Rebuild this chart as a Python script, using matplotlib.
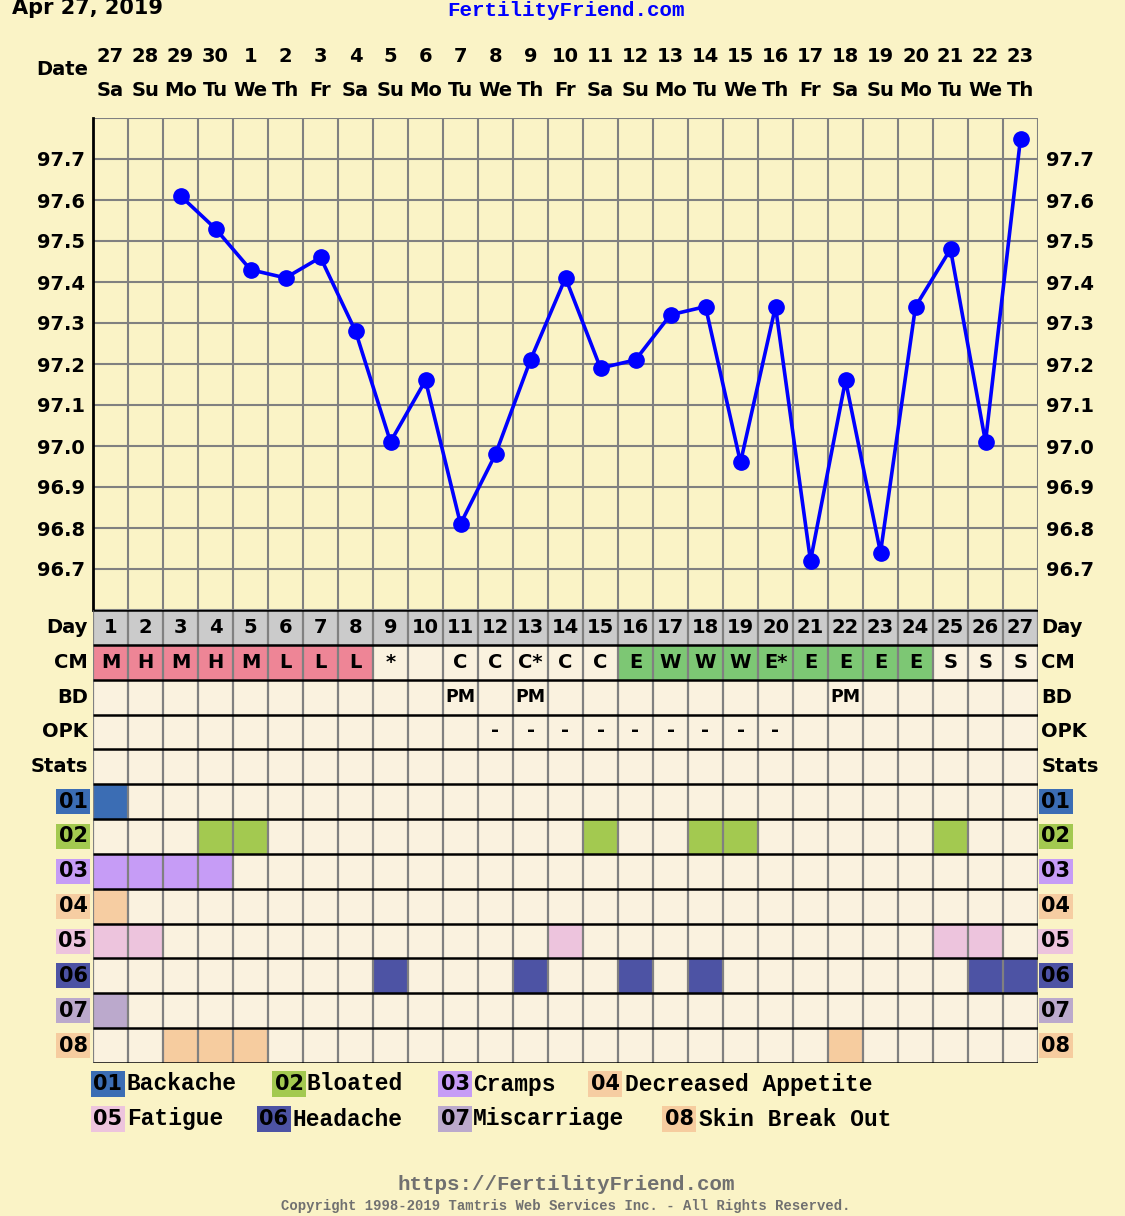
import numpy as np
import matplotlib.pyplot as plt

# ---- cycle data ----
days = list(range(1, 28))
dates = ['27', '28', '29', '30', '1', '2', '3', '4', '5', '6', '7', '8', '9', '10',
         '11', '12', '13', '14', '15', '16', '17', '18', '19', '20', '21', '22', '23']
weekdays = ['Sa', 'Su', 'Mo', 'Tu', 'We', 'Th', 'Fr', 'Sa', 'Su', 'Mo', 'Tu', 'We', 'Th', 'Fr',
            'Sa', 'Su', 'Mo', 'Tu', 'We', 'Th', 'Fr', 'Sa', 'Su', 'Mo', 'Tu', 'We', 'Th']

temp_days = list(range(3, 28))
temps = [97.61, 97.53, 97.43, 97.41, 97.46, 97.28, 97.01, 97.16, 96.81, 96.98,
         97.21, 97.41, 97.19, 97.21, 97.32, 97.34, 96.96, 97.34, 96.72, 97.16,
         96.74, 97.34, 97.48, 97.01, 97.75]
temp_ticks = [96.7, 96.8, 96.9, 97.0, 97.1, 97.2, 97.3, 97.4, 97.5, 97.6, 97.7]

cm = ['M', 'H', 'M', 'H', 'M', 'L', 'L', 'L', '*', '', 'C', 'C', 'C*', 'C', 'C',
      'E', 'W', 'W', 'W', 'E*', 'E', 'E', 'E', 'E', 'S', 'S', 'S']
bd = ['', '', '', '', '', '', '', '', '', '', 'PM', '', 'PM', '', '',
      '', '', '', '', '', '', 'PM', '', '', '', '', '']
opk = ['', '', '', '', '', '', '', '', '', '', '', '-', '-', '-', '-',
       '-', '-', '-', '-', '-', '', '', '', '', '', '', '']

row_labels = ['Day', 'CM', 'BD', 'OPK', 'Stats']

symptom_codes = ['01', '02', '03', '04', '05', '06', '07', '08']
symptom_names = ['Backache', 'Bloated', 'Cramps', 'Decreased Appetite',
                 'Fatigue', 'Headache', 'Miscarriage', 'Skin Break Out']
symptom_colors = ['#3b6db4', '#a3c950', '#c69cf6', '#f6cda2',
                  '#edc4dd', '#4d53a4', '#bba9cc', '#f6cc9f']
symptom_days = [[1], [4, 5, 15, 18, 19, 25], [1, 2, 3, 4], [1],
                [1, 2, 14, 25, 26], [9, 13, 16, 18, 26, 27], [1], [3, 4, 5, 22]]

# ---- styles ----
page_bg = '#faf3c6'
cell_bg = '#faf2df'
grid_c = '#808080'
pink = '#ee8596'
green = '#7dc774'
cm_colors = {'M': pink, 'H': pink, 'L': pink, 'E': green, 'W': green, 'E*': green}
sans = 'DejaVu Sans'
mono = 'Liberation Mono'

W, H = 1125, 1216
fig = plt.figure(figsize=(W / 100, H / 100), dpi=100)
fig.patch.set_facecolor(page_bg)

# ---- temperature chart ----
ax = fig.add_axes([93 / W, (H - 610) / H, 945 / W, 492 / H])
ax.set_facecolor(page_bg)
ax.set_xlim(0.5, 27.5)
ax.set_ylim(96.6, 97.8)
ax.hlines(np.round(np.arange(96.6, 97.85, 0.1), 1), 0.5, 27.5, color=grid_c, lw=1.5, zorder=1)
ax.vlines(np.arange(0.5, 28, 1), 96.6, 97.8, color=grid_c, lw=1.5, zorder=1)
ax.plot(temp_days, temps, color='#0000ff', lw=2.6, marker='o', ms=11, zorder=3)

ax.set_xticks([])
ax.set_yticks(temp_ticks)
ax.set_yticklabels(['%.1f' % t for t in temp_ticks], fontsize=14, fontweight='bold', family=sans)
ax.tick_params(axis='y', length=0, pad=6, labelleft=True, labelright=True)
for s in ['top', 'right', 'bottom']:
    ax.spines[s].set_visible(False)
ax.spines['left'].set_linewidth(2)
ax.spines['left'].set_zorder(4)

# date header
tr = ax.get_xaxis_transform()
for d, dt, wd in zip(days, dates, weekdays):
    ax.text(d, 1.124, dt, transform=tr, ha='center', va='center',
            fontsize=14, fontweight='bold', family=sans)
    ax.text(d, 1.055, wd, transform=tr, ha='center', va='center',
            fontsize=14, fontweight='bold', family=sans)
ax.text(-0.005, 1.098, 'Date', transform=ax.transAxes, ha='right', va='center',
        fontsize=14, fontweight='bold', family=sans)

# ---- table below ----
tb = fig.add_axes([93 / W, (H - 1063) / H, 945 / W, 453 / H])
tb.set_facecolor(cell_bg)
tb.set_xlim(0.5, 27.5)
tb.set_ylim(13, 0)
tb.set_xticks([])
tb.set_yticks([])
for s in tb.spines.values():
    s.set_visible(False)

tb.bar(days, 1, bottom=0, width=1, color='#cbcbcb', zorder=1)
tb.bar(days, 1, bottom=1, width=1,
       color=[cm_colors.get(c, cell_bg) for c in cm], zorder=1)
for i, ds in enumerate(symptom_days):
    tb.bar(ds, 1, bottom=5 + i, width=1, color=symptom_colors[i], zorder=1)

tb.vlines(np.arange(0.5, 28, 1), 0, 13, color=grid_c, lw=1.6, zorder=2)
tb.hlines(np.arange(0, 14), 0.5, 27.5, color='black', lw=1.8, zorder=3)

for d in days:
    tb.text(d, 0.5, str(d), ha='center', va='center', fontsize=14, fontweight='bold', family=sans)
for d, c, b, o in zip(days, cm, bd, opk):
    tb.text(d, 1.5, c, ha='center', va='center', fontsize=14, fontweight='bold', family=sans)
    tb.text(d, 2.5, b, ha='center', va='center', fontsize=12.5, fontweight='bold', family=sans)
    tb.text(d, 3.45, o, ha='center', va='center', fontsize=14, fontweight='bold', family=sans)

for r, lab in enumerate(row_labels):
    tb.text(0.36, r + 0.5, lab, ha='right', va='center', fontsize=14, fontweight='bold', family=sans)
    tb.text(27.6, r + 0.5, lab, ha='left', va='center', fontsize=14, fontweight='bold', family=sans)
for i, code in enumerate(symptom_codes):
    for x in (-0.07, 28.0):
        tb.text(x, 5.5 + i, code, ha='center', va='center', fontsize=15, fontweight='bold',
                family=sans, bbox=dict(boxstyle='square,pad=0.12', fc=symptom_colors[i], ec='none'))

# ---- legend ----
legend_code_x = [108, 289, 455, 605, 108, 274, 455, 679]
legend_name_x = [127, 307, 473, 625, 127, 292, 473, 699]
legend_y = [1084, 1084, 1084, 1084, 1119, 1119, 1119, 1119]
for i, code in enumerate(symptom_codes):
    fig.text(legend_code_x[i] / W, 1 - legend_y[i] / H, code, ha='center', va='center',
             fontsize=15, fontweight='bold', family=sans,
             bbox=dict(boxstyle='square,pad=0.14', fc=symptom_colors[i], ec='none'))
    fig.text(legend_name_x[i] / W, 1 - legend_y[i] / H, symptom_names[i], ha='left', va='center',
             fontsize=16.5, fontweight='bold', family=mono)

# ---- titles / footer ----
fig.text(12 / W, 1 - 8 / H, 'Apr 27, 2019', ha='left', va='center',
         fontsize=15, fontweight='bold', family=sans)
fig.text(566 / W, 1 - 10 / H, 'FertilityFriend.com', ha='center', va='center',
         fontsize=15, fontweight='bold', family=mono, color='#0000ff')
fig.text(566 / W, 1 - 1185 / H, 'https://FertilityFriend.com', ha='center', va='center',
         fontsize=15, fontweight='bold', family=mono, color='#707070')
fig.text(566 / W, 1 - 1206 / H, 'Copyright 1998-2019 Tamtris Web Services Inc. - All Rights Reserved.',
         ha='center', va='center', fontsize=10, fontweight='bold', family=mono, color='#707070')

fig.savefig('out.png', dpi=100, facecolor=page_bg)
